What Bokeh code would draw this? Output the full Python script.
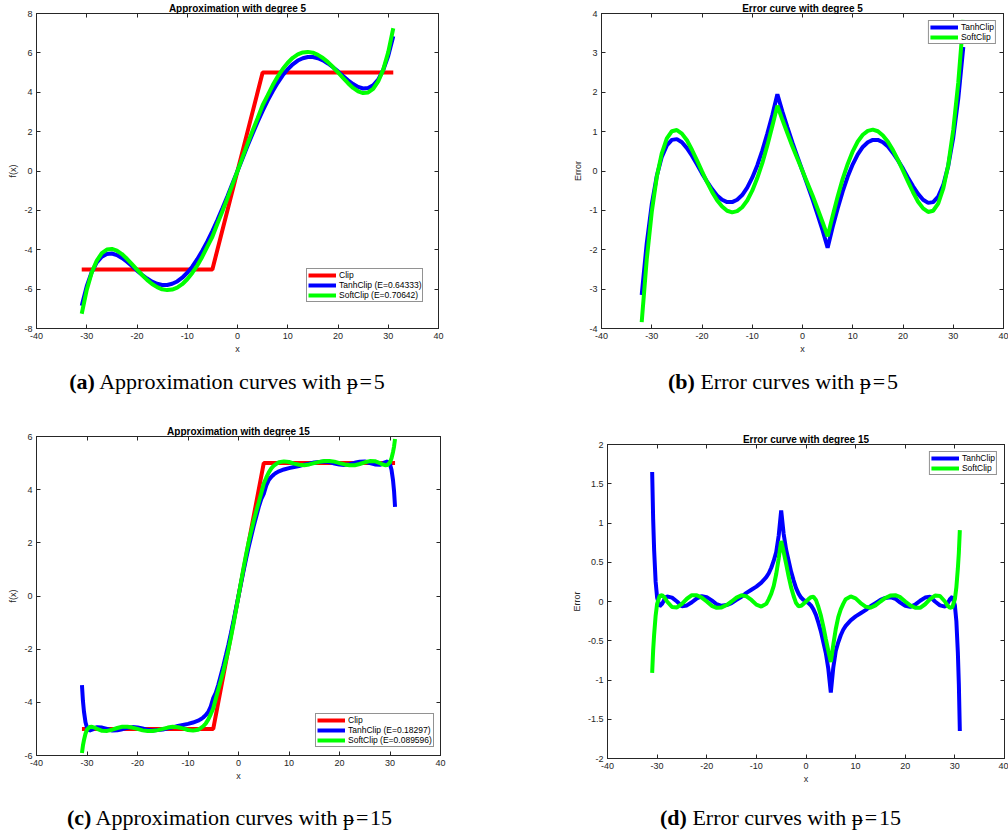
from bokeh.plotting import figure
from bokeh.models import (Range1d, LinearAxis, FixedTicker, CustomJSTickFormatter,
                          Legend, LegendItem, Div)
from bokeh.layouts import column, row
from bokeh.embed import file_html
from bokeh.resources import INLINE

# ---------------- data ----------------
x_ticks = [-40, -30, -20, -10, 0, 10, 20, 30, 40]

clip_x = [-31, -5, 5, 31]
clip_y = [-5, -5, 5, 5]

# degree 5 approximations (panel a)
xa = [-31, -30, -29, -28, -27, -26, -25, -24, -23, -22, -21, -20, -19, -18, -17, -16,
      -15, -14, -13, -12, -11, -10, -9, -8, -7, -6, -5, -4, -3, -2, -1, 0,
      1, 2, 3, 4, 5, 6, 7, 8, 9, 10, 11, 12, 13, 14, 15, 16,
      17, 18, 19, 20, 21, 22, 23, 24, 25, 26, 27, 28, 29, 30, 31]
tanh5 = [-6.84, -5.85, -5.13, -4.64, -4.35, -4.21, -4.19, -4.27, -4.42, -4.61, -4.83, -5.06,
         -5.27, -5.46, -5.62, -5.73, -5.79, -5.79, -5.73, -5.61, -5.42, -5.17, -4.86, -4.48,
         -4.05, -3.58, -3.05, -2.49, -1.89, -1.28, -0.64, 0.0,
         0.64, 1.28, 1.89, 2.49, 3.05, 3.58, 4.05, 4.48, 4.86, 5.17, 5.42, 5.61, 5.73, 5.79,
         5.79, 5.73, 5.62, 5.46, 5.27, 5.06, 4.83, 4.61, 4.42, 4.27, 4.19, 4.21, 4.35, 4.64,
         5.13, 5.85, 6.84]
soft5 = [-7.25, -6.04, -5.15, -4.55, -4.17, -3.99, -3.96, -4.05, -4.22, -4.46, -4.73, -5.01,
         -5.28, -5.53, -5.74, -5.90, -6.01, -6.05, -6.02, -5.92, -5.75, -5.50, -5.18, -4.80,
         -4.35, -3.84, -3.34, -2.68, -2.04, -1.38, -0.69, 0.0,
         0.69, 1.38, 2.04, 2.68, 3.34, 3.84, 4.35, 4.80, 5.18, 5.50, 5.75, 5.92, 6.02, 6.05,
         6.01, 5.90, 5.74, 5.53, 5.28, 5.01, 4.73, 4.46, 4.22, 4.05, 3.96, 3.99, 4.17, 4.55,
         5.15, 6.04, 7.25]

# degree 5 errors (panel b)
xb = [-32, -31, -30, -29, -28, -27, -26, -25, -24, -23, -22, -21, -20, -19, -18, -17, -16,
      -15, -14, -13, -12, -11, -10, -9, -8, -7, -6, -5, -4, -3, -2, -1, 0,
      1, 2, 3, 4, 5, 6, 7, 8, 9, 10, 11, 12, 13, 14, 15, 16,
      17, 18, 19, 20, 21, 22, 23, 24, 25, 26, 27, 28, 29, 30, 31, 32]
tanh5_err = [-3.15, -1.84, -0.85, -0.13, 0.36, 0.65, 0.79, 0.81, 0.73, 0.58, 0.39, 0.17,
             -0.06, -0.27, -0.46, -0.62, -0.73, -0.79, -0.79, -0.73, -0.61, -0.42, -0.17,
             0.14, 0.52, 0.95, 1.42, 1.95, 1.51, 1.11, 0.72, 0.36, 0.0,
             -0.36, -0.72, -1.11, -1.51, -1.95, -1.42, -0.95, -0.52, -0.14, 0.17, 0.42, 0.61,
             0.73, 0.79, 0.79, 0.73, 0.62, 0.46, 0.27, 0.06, -0.17, -0.39, -0.58, -0.73, -0.81,
             -0.79, -0.65, -0.36, 0.13, 0.85, 1.84, 3.15]
soft5_err = [-3.84, -2.25, -1.04, -0.15, 0.45, 0.83, 1.01, 1.04, 0.95, 0.78, 0.54, 0.27,
             -0.01, -0.28, -0.53, -0.74, -0.90, -1.01, -1.05, -1.02, -0.92, -0.75, -0.50,
             -0.18, 0.20, 0.65, 1.14, 1.66, 1.30, 0.96, 0.62, 0.31, 0.0,
             -0.31, -0.62, -0.96, -1.30, -1.66, -1.14, -0.65, -0.20, 0.18, 0.50, 0.75, 0.92,
             1.02, 1.05, 1.01, 0.90, 0.74, 0.53, 0.28, 0.01, -0.27, -0.54, -0.78, -0.95, -1.04,
             -1.01, -0.83, -0.45, 0.15, 1.04, 2.25, 3.84]

# degree 15 (panels c and d)
xd = [-31, -30.8, -30.6, -30.3, -30, -29.5, -29, -28.5, -28, -27, -26, -25, -24, -23, -22,
      -21, -20, -19, -18, -17, -16, -15, -14, -13, -12, -11, -10, -9, -8, -7.5, -7, -6.5,
      -6, -5.5, -5, -4.5, -4, -3.5, -3, -2.5, -2, -1.5, -1, -0.5, 0,
      0.5, 1, 1.5, 2, 2.5, 3, 3.5, 4, 4.5, 5, 5.5, 6, 6.5, 7, 7.5, 8, 9, 10, 11, 12, 13,
      14, 15, 16, 17, 18, 19, 20, 21, 22, 23, 24, 25, 26, 27, 28, 28.5, 29, 29.5, 30,
      30.3, 30.6, 30.8, 31]
tanh15 = [-3.35, -3.95, -4.35, -4.75, -4.95, -5.06, -5.03, -4.97, -4.935, -4.95, -5.0,
          -5.06, -5.05, -5.01, -4.96, -4.932, -4.945, -4.985, -5.035, -5.055, -5.045, -5.02,
          -4.98, -4.94, -4.89, -4.85, -4.81, -4.76, -4.69, -4.64, -4.57, -4.48, -4.37, -4.16,
          -3.84, -3.64, -3.34, -2.98, -2.62, -2.23, -1.83, -1.40, -0.95, -0.48, 0.0,
          0.48, 0.95, 1.40, 1.83, 2.23, 2.62, 2.98, 3.34, 3.64, 3.84, 4.16, 4.37, 4.48, 4.57,
          4.64, 4.69, 4.76, 4.81, 4.85, 4.89, 4.94, 4.98, 5.02, 5.045, 5.055, 5.035, 4.985,
          4.945, 4.932, 4.96, 5.01, 5.05, 5.06, 5.0, 4.95, 4.935, 4.97, 5.03, 5.06, 4.95,
          4.75, 4.35, 3.95, 3.35]
soft15 = [-5.91, -5.62, -5.42, -5.18, -5.03, -4.93, -4.92, -4.95, -5.0, -5.07, -5.075,
          -5.03, -4.965, -4.92, -4.92, -4.95, -5.0, -5.055, -5.08, -5.075, -5.045, -5.0,
          -4.95, -4.92, -4.935, -4.98, -5.04, -5.064, -5.03, -4.97, -4.9, -4.8, -4.65, -4.45,
          -4.23, -3.87, -3.52, -3.18, -2.82, -2.43, -2.02, -1.56, -1.055, -0.53, 0.0,
          0.53, 1.055, 1.56, 2.02, 2.43, 2.82, 3.18, 3.52, 3.87, 4.23, 4.45, 4.65, 4.8, 4.9,
          4.97, 5.03, 5.064, 5.04, 4.98, 4.935, 4.92, 4.95, 5.0, 5.045, 5.075, 5.08, 5.055,
          5.0, 4.95, 4.92, 4.92, 4.965, 5.03, 5.075, 5.07, 5.0, 4.95, 4.92, 4.93, 5.03,
          5.18, 5.42, 5.62, 5.91]
tanh15_err = [1.65, 1.05, 0.65, 0.25, 0.05, -0.06, -0.03, 0.03, 0.065, 0.05, 0.0, -0.06,
              -0.05, -0.01, 0.04, 0.068, 0.055, 0.015, -0.035, -0.055, -0.045, -0.02, 0.02,
              0.06, 0.11, 0.15, 0.19, 0.24, 0.31, 0.36, 0.43, 0.52, 0.63, 0.84, 1.16, 0.86,
              0.66, 0.52, 0.38, 0.27, 0.17, 0.1, 0.05, 0.02, 0.0,
              -0.02, -0.05, -0.1, -0.17, -0.27, -0.38, -0.52, -0.66, -0.86, -1.16, -0.84,
              -0.63, -0.52, -0.43, -0.36, -0.31, -0.24, -0.19, -0.15, -0.11, -0.06, -0.02,
              0.02, 0.045, 0.055, 0.035, -0.015, -0.055, -0.068, -0.04, 0.01, 0.05, 0.06,
              0.0, -0.05, -0.065, -0.03, 0.03, 0.06, -0.05, -0.25, -0.65, -1.05, -1.65]
soft15_err = [-0.91, -0.62, -0.42, -0.18, -0.03, 0.07, 0.08, 0.05, 0.0, -0.07, -0.075,
              -0.03, 0.035, 0.08, 0.08, 0.05, 0.0, -0.055, -0.08, -0.075, -0.045, 0.0, 0.05,
              0.08, 0.065, 0.02, -0.04, -0.064, -0.03, 0.03, 0.1, 0.2, 0.35, 0.55, 0.77, 0.63,
              0.48, 0.32, 0.18, 0.07, -0.02, -0.06, -0.055, -0.03, 0.0,
              0.03, 0.055, 0.06, 0.02, -0.07, -0.18, -0.32, -0.48, -0.63, -0.77, -0.55,
              -0.35, -0.2, -0.1, -0.03, 0.03, 0.064, 0.04, -0.02, -0.065, -0.08, -0.05, 0.0,
              0.045, 0.075, 0.08, 0.055, 0.0, -0.05, -0.08, -0.08, -0.035, 0.03, 0.075, 0.07,
              0.0, -0.05, -0.08, -0.07, 0.03, 0.18, 0.42, 0.62, 0.91]

yticks_a = [-8, -6, -4, -2, 0, 2, 4, 6, 8]
yticks_b = [-4, -3, -2, -1, 0, 1, 2, 3, 4]
yticks_c = [-6, -4, -2, 0, 2, 4, 6]
yticks_d = [-2, -1.5, -1, -0.5, 0, 0.5, 1, 1.5, 2]

# ---------------- styling ----------------
AX = "#262626"
FONT = "Liberation Sans"
RED, BLUE, GREEN = "#ff0000", "#0000ff", "#00ff00"
LW = 4

fmt_code = "return (Math.round(tick*100)/100).toString();"


def style_axis(ax, ticks, label=None, show_labels=True, label_standoff=3):
    ax.ticker = FixedTicker(ticks=ticks)
    ax.major_tick_in = 4
    ax.major_tick_out = 0
    ax.minor_tick_line_color = None
    ax.axis_line_color = AX
    ax.major_tick_line_color = AX
    if show_labels:
        ax.formatter = CustomJSTickFormatter(code=fmt_code)
        ax.major_label_text_font = FONT
        ax.major_label_text_font_size = "9px"
        ax.major_label_text_color = AX
        ax.major_label_standoff = 4
    else:
        ax.formatter = CustomJSTickFormatter(code="return '';")
        ax.major_label_text_font_size = "0px"
        ax.major_label_standoff = 0
    if label is not None:
        ax.axis_label = label
        ax.axis_label_text_font = FONT
        ax.axis_label_text_font_size = "9px"
        ax.axis_label_text_font_style = "normal"
        ax.axis_label_text_color = AX
        ax.axis_label_standoff = label_standoff


def make_panel(title, ylabel, yr, yticks, w, h, bl, br, bt, bb):
    p = figure(width=w, height=h, x_range=Range1d(-40, 40), y_range=Range1d(*yr),
               output_backend="svg", toolbar_location=None, tools="",
               min_border_left=bl, min_border_right=br, min_border_top=bt,
               min_border_bottom=bb)
    p.frame_align = False
    p.grid.visible = False
    p.outline_line_color = AX
    p.outline_line_width = 1
    p.outline_line_alpha = 1
    p.background_fill_color = "white"
    p.border_fill_color = "white"
    p.title.text = title
    p.title.text_font = FONT
    p.title.text_font_size = "10px"
    p.title.text_font_style = "bold"
    p.title.text_color = "black"
    p.title.align = "center"
    p.title.standoff = 0
    p.title.text_line_height = 1.0
    style_axis(p.xaxis[0], x_ticks, "x", label_standoff=2)
    style_axis(p.yaxis[0], yticks, ylabel, label_standoff=3)
    top = LinearAxis()
    style_axis(top, x_ticks, show_labels=False)
    p.add_layout(top, "above")
    right = LinearAxis()
    style_axis(right, yticks, show_labels=False)
    p.add_layout(right, "right")
    return p


def make_legend(p, items, location):
    lg = Legend(items=[LegendItem(label=lab, renderers=[r]) for lab, r in items],
                location=location)
    lg.label_text_font = FONT
    lg.label_text_font_size = "8.5px"
    lg.label_text_line_height = 0.9
    lg.label_text_color = "black"
    lg.glyph_width = 28
    lg.glyph_height = 8
    lg.label_height = 8
    lg.label_standoff = 3
    lg.spacing = 0
    lg.padding = 1
    lg.margin = 7
    lg.border_line_color = AX
    lg.border_line_width = 1
    lg.background_fill_color = "white"
    lg.background_fill_alpha = 1
    p.add_layout(lg)


# panel a
pa = make_panel("Approximation with degree 5", "f(x)", (-8, 8), yticks_a,
                504, 360, 36, 66, 12, 32)
ra1 = pa.line(clip_x, clip_y, line_color=RED, line_width=LW)
ra2 = pa.line(xa, tanh5, line_color=BLUE, line_width=LW)
ra3 = pa.line(xa, soft5, line_color=GREEN, line_width=LW)
make_legend(pa, [("Clip", ra1), ("TanhClip (E=0.64333)", ra2),
                 ("SoftClip (E=0.70642)", ra3)], (270, 26))

# panel b
pb = make_panel("Error curve with degree 5", "Error", (-4, 4), yticks_b,
                504, 360, 97, 5, 11, 32)
rb1 = pb.line(xb, tanh5_err, line_color=BLUE, line_width=LW)
rb2 = pb.line(xb, soft5_err, line_color=GREEN, line_width=LW)
make_legend(pb, [("TanhClip", rb1), ("SoftClip", rb2)], "top_right")

# panel c
pc = make_panel("Approximation with degree 15", "f(x)", (-6, 6), yticks_c,
                504, 390, 36, 64, 36, 35)
rc1 = pc.line(clip_x, clip_y, line_color=RED, line_width=LW)
rc2 = pc.line(xd, tanh15, line_color=BLUE, line_width=LW)
rc3 = pc.line(xd, soft15, line_color=GREEN, line_width=LW)
make_legend(pc, [("Clip", rc1), ("TanhClip (E=0.18297)", rc2),
                 ("SoftClip (E=0.089596)", rc3)], (279, 8))

# panel d
pd_ = make_panel("Error curve with degree 15", "Error", (-2, 2), yticks_d,
                 504, 390, 103, 4, 44, 32)
rd1 = pd_.line(xd, tanh15_err, line_color=BLUE, line_width=LW)
rd2 = pd_.line(xd, soft15_err, line_color=GREEN, line_width=LW)
make_legend(pd_, [("TanhClip", rd1), ("SoftClip", rd2)], "top_right")


def caption(letter, text, margin_left, inner_w, h, pad_top):
    html = ('<div style="margin-left:%dpx;width:%dpx;text-align:center;'
            'font-family:\'Liberation Serif\',\'DejaVu Serif\',serif;font-size:22px;'
            'line-height:24px;padding-top:%dpx;color:#000;white-space:nowrap;">'
            '<b>(%s)</b> %s</div>') % (margin_left, inner_w, pad_top, letter, text)
    return Div(text=html, width=504, height=h, margin=(0, 0, 0, 0))


HS = "\u200a"
cap_a = caption("a", "Approximation curves with \u1d7d" + HS + "=" + HS + "5", 0, 454, 40, 10)
cap_b = caption("b", "Error curves with \u1d7d" + HS + "=" + HS + "5", 54, 450, 40, 10)
cap_c = caption("c", "Approximation curves with \u1d7d" + HS + "=" + HS + "15", 0, 459, 45, 16)
cap_d = caption("d", "Error curves with \u1d7d" + HS + "=" + HS + "15", 53, 447, 45, 16)

layout = column(row(pa, pb), row(cap_a, cap_b), row(pc, pd_), row(cap_c, cap_d))

open("out.html", "w").write(file_html(layout, INLINE))
